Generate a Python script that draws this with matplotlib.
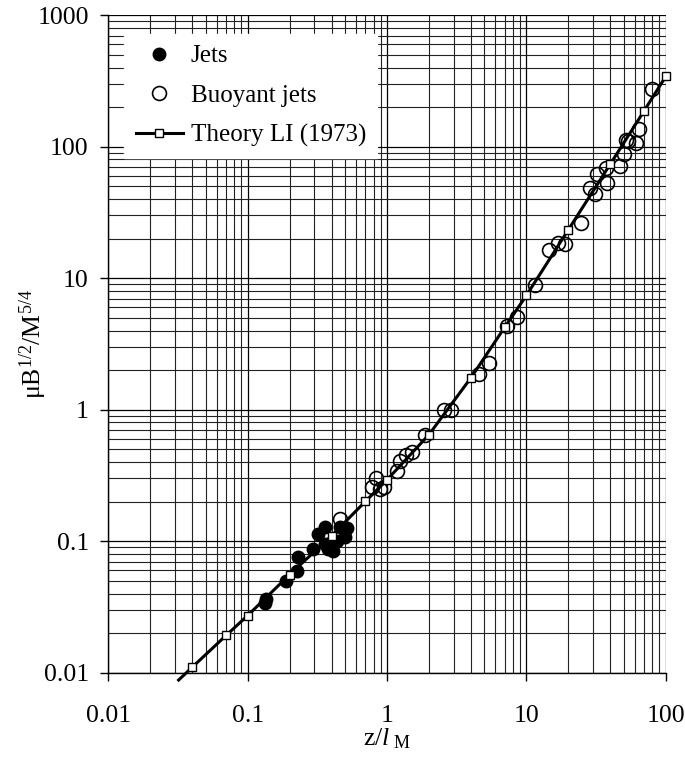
import matplotlib
matplotlib.use("Agg")
import matplotlib.pyplot as plt
from matplotlib.ticker import LogLocator, FixedLocator, NullFormatter

plt.rcParams['font.family'] = ['Liberation Serif', 'DejaVu Serif']
plt.rcParams['mathtext.fontset'] = 'custom'
plt.rcParams['mathtext.rm'] = 'Liberation Serif'
plt.rcParams['mathtext.it'] = 'Liberation Serif:italic'

# Jets (filled circles)
jets_x = [0.134, 0.136, 0.188, 0.227, 0.228, 0.295, 0.318, 0.359, 0.359, 0.38,
          0.412, 0.412, 0.436, 0.46, 0.50, 0.50, 0.52]
jets_y = [0.034, 0.0365, 0.050, 0.0595, 0.0755, 0.087, 0.113, 0.128, 0.095, 0.087,
          0.085, 0.095, 0.101, 0.128, 0.124, 0.107, 0.125]

# Buoyant jets (open circles)
bj_x = [0.46, 0.78, 0.837, 0.895, 0.95, 1.18, 1.23, 1.37, 1.51, 1.87,
        2.57, 2.86, 4.59, 5.4, 7.26, 8.5, 11.6, 14.5, 16.9, 18.8,
        24.6, 28.5, 31.0, 32.2, 37.6, 37.2, 47.0, 50.2, 51.9, 53.9,
        61.3, 64.7, 79.4]
bj_y = [0.148, 0.26, 0.30, 0.25, 0.26, 0.34, 0.41, 0.45, 0.48, 0.64,
        1.0, 1.0, 1.88, 2.28, 4.3, 5.1, 8.9, 16.3, 18.5, 18.1,
        26.2, 48.9, 43.5, 61.6, 53.0, 69.3, 71.0, 88.7, 112, 110,
        106, 137, 277]

# Theory LI (1973); first point has no marker (line runs past the axis)
th_x = [0.032, 0.04, 0.07, 0.1, 0.2, 0.4, 0.7, 1, 2, 4, 7, 10, 20, 40, 70, 100]
th_y = [0.0088, 0.011, 0.0192, 0.0272, 0.0557, 0.110, 0.201, 0.293, 0.647, 1.75,
        4.25, 7.4, 23.4, 73.9, 188, 343]

fig = plt.figure(figsize=(6.85, 7.61), dpi=100)
ax = fig.add_axes([0.158, 0.116, 0.814, 0.864])

ax.set_xscale('log')
ax.set_yscale('log')
ax.set_xlim(0.01, 100)
ax.set_ylim(0.01, 1000)

ax.xaxis.set_minor_locator(LogLocator(base=10, subs=range(2, 10)))
ax.yaxis.set_minor_locator(LogLocator(base=10, subs=range(2, 10)))
ax.xaxis.set_major_locator(FixedLocator([0.01, 0.1, 1, 10, 100]))
ax.yaxis.set_major_locator(FixedLocator([0.01, 0.1, 1, 10, 100, 1000]))
ax.set_xticklabels(['0.01', '0.1', '1', '10', '100'])
ax.set_yticklabels(['0.01', '0.1', '1', '10', '100', '1000'])
ax.xaxis.set_minor_formatter(NullFormatter())
ax.yaxis.set_minor_formatter(NullFormatter())

ax.grid(True, which='major', color='black', lw=0.9)
ax.grid(True, which='minor', color='#222222', lw=0.8)
ax.set_axisbelow(True)
ax.tick_params(which='major', direction='out', length=6, width=1, labelsize=18.5)
ax.tick_params(axis='x', which='major', pad=17)
ax.tick_params(axis='y', which='major', pad=8)
ax.tick_params(which='minor', length=0)
for s in ax.spines.values():
    s.set_color('black')
    s.set_linewidth(1)
ax.spines['top'].set_visible(False)
ax.spines['right'].set_visible(False)

ax.plot(jets_x, jets_y, 'o', color='black', ms=9, label='Jets', zorder=4)
ax.plot(bj_x, bj_y, 'o', mfc='none', mec='black', mew=1.2, ms=10,
        label='Buoyant jets', zorder=4)
ax.plot(th_x, th_y, '-s', color='black', lw=2.2, mfc='white', mec='black',
        mew=1, ms=6, markevery=list(range(1, len(th_x))), clip_on=False,
        label='Theory LI (1973)', zorder=5)

ax.set_xlabel(r'z/$l$$_{\ \rm M}$', fontsize=18.5, labelpad=0)
ax.set_ylabel(r'μB$^{1/2}$/M$^{5/4}$', fontsize=18.5)
ax.yaxis.set_label_coords(-0.106, 0.5)

leg = ax.legend(loc='upper left', bbox_to_anchor=(0.029, 0.972), borderaxespad=0,
                fontsize=18, frameon=True, fancybox=False, framealpha=1,
                edgecolor='white', labelspacing=0.68, handlelength=1.9,
                handletextpad=0.3, borderpad=0.45)
leg.set_zorder(10)

fig.savefig('out.png', dpi=100)
